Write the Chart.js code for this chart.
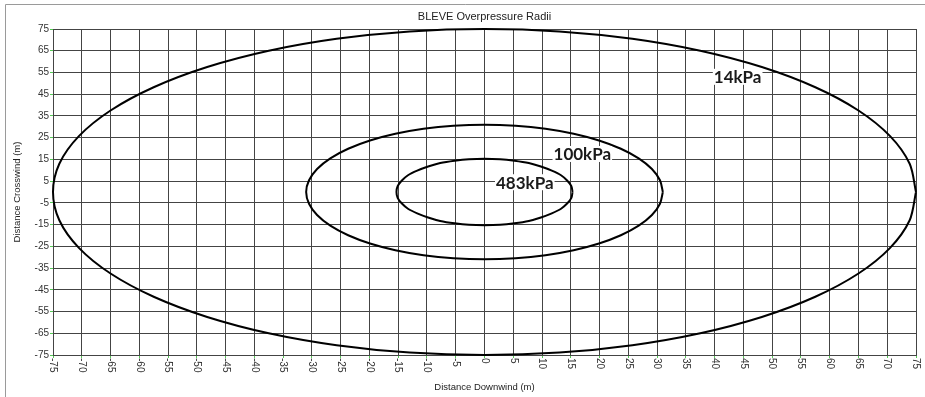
<!DOCTYPE html>
<html>
<head>
<meta charset="utf-8">
<title>BLEVE Overpressure Radii</title>
<script src="https://cdn.jsdelivr.net/npm/chart.js@4.4.1/dist/chart.umd.min.js"></script>
<style>
  body { margin: 0; background: #fff; }
  canvas { display: block; }
</style>
</head>
<body>
<canvas id="radiiChart" width="925" height="397"></canvas>
<script>
// tick values for both axes (m)
const xTicks = [-75, -70, -65, -60, -55, -50, -45, -40, -35, -30, -25, -20, -15, -10, -5,
  0, 5, 10, 15, 20, 25, 30, 35, 40, 45, 50, 55, 60, 65, 70, 75];
const yTicks = [75, 65, 55, 45, 35, 25, 15, 5, -5, -15, -25, -35, -45, -55, -65, -75];

// overpressure contours as [downwind, crosswind] points (m)
const contour14kPa = [
  [75, 0], [73.9, 13], [70.5, 25.7], [65, 37.5], [57.5, 48.2], [48.2, 57.5], [37.5, 65],
  [25.7, 70.5], [13, 73.9], [0, 75], [-13, 73.9], [-25.7, 70.5], [-37.5, 65], [-48.2, 57.5],
  [-57.5, 48.2], [-65, 37.5], [-70.5, 25.7], [-73.9, 13], [-75, 0], [-73.9, -13], [-70.5, -25.7],
  [-65, -37.5], [-57.5, -48.2], [-48.2, -57.5], [-37.5, -65], [-25.7, -70.5], [-13, -73.9],
  [0, -75], [13, -73.9], [25.7, -70.5], [37.5, -65], [48.2, -57.5], [57.5, -48.2], [65, -37.5],
  [70.5, -25.7], [73.9, -13], [75, 0]
];
const contour100kPa = [
  [31, 0], [30.5, 5.4], [29.1, 10.6], [26.8, 15.5], [23.7, 19.9], [19.9, 23.7], [15.5, 26.8],
  [10.6, 29.1], [5.4, 30.5], [0, 31], [-5.4, 30.5], [-10.6, 29.1], [-15.5, 26.8], [-19.9, 23.7],
  [-23.7, 19.9], [-26.8, 15.5], [-29.1, 10.6], [-30.5, 5.4], [-31, 0], [-30.5, -5.4], [-29.1, -10.6],
  [-26.8, -15.5], [-23.7, -19.9], [-19.9, -23.7], [-15.5, -26.8], [-10.6, -29.1], [-5.4, -30.5],
  [0, -31], [5.4, -30.5], [10.6, -29.1], [15.5, -26.8], [19.9, -23.7], [23.7, -19.9], [26.8, -15.5],
  [29.1, -10.6], [30.5, -5.4], [31, 0]
];
const contour483kPa = [
  [15.3, 0], [15.1, 2.7], [14.4, 5.2], [13.3, 7.7], [11.7, 9.8], [9.8, 11.7], [7.7, 13.3],
  [5.2, 14.4], [2.7, 15.1], [0, 15.3], [-2.7, 15.1], [-5.2, 14.4], [-7.7, 13.3], [-9.8, 11.7],
  [-11.7, 9.8], [-13.3, 7.7], [-14.4, 5.2], [-15.1, 2.7], [-15.3, 0], [-15.1, -2.7], [-14.4, -5.2],
  [-13.3, -7.7], [-11.7, -9.8], [-9.8, -11.7], [-7.7, -13.3], [-5.2, -14.4], [-2.7, -15.1],
  [0, -15.3], [2.7, -15.1], [5.2, -14.4], [7.7, -13.3], [9.8, -11.7], [11.7, -9.8], [13.3, -7.7],
  [14.4, -5.2], [15.1, -2.7], [15.3, 0]
];

// contour names and where they sit on the plot (m)
const zoneNames = ["14kPa", "100kPa", "483kPa"];
const zoneLabelX = [44, 17, 7];
const zoneLabelY = [53, 17.5, 4.5];

const toPoints = (pairs) => pairs.map(([x, y]) => ({ x: x, y: y }));

const contourStyle = {
  showLine: true,
  borderColor: "#000",
  borderWidth: 2,
  pointRadius: 0,
  tension: 0.3,
  clip: false,
};

const gridStyle = { color: "#444", tickColor: "#55cc55", tickLength: 3 };

// frame, rotated tick labels, titles and zone names
const chartText = {
  id: "chartText",
  beforeDraw(chart) {
    const ctx = chart.ctx;
    ctx.save();
    ctx.fillStyle = "#fff";
    ctx.fillRect(0, 0, chart.width, chart.height);
    ctx.strokeStyle = "#9a9a9a";
    ctx.lineWidth = 1;
    ctx.beginPath();
    ctx.moveTo(5.5, chart.height);
    ctx.lineTo(5.5, 4.5);
    ctx.lineTo(chart.width, 4.5);
    ctx.stroke();
    ctx.restore();
  },
  afterDraw(chart) {
    const { ctx, chartArea } = chart;
    const x = chart.scales.x;
    const y = chart.scales.y;
    const midX = (chartArea.left + chartArea.right) / 2;

    ctx.save();
    ctx.fillStyle = "#222";
    ctx.textAlign = "center";
    ctx.textBaseline = "middle";
    ctx.font = "11px Arial, 'Liberation Sans'";
    ctx.fillText("BLEVE Overpressure Radii", midX, 17);

    ctx.font = "9.5px Arial, 'Liberation Sans'";
    ctx.fillText("Distance Downwind (m)", midX, 387);

    ctx.save();
    ctx.translate(17, (chartArea.top + chartArea.bottom) / 2);
    ctx.rotate(-Math.PI / 2);
    ctx.fillText("Distance Crosswind (m)", 0, 0);
    ctx.restore();

    // x tick labels read top to bottom
    ctx.fillStyle = "#333";
    ctx.font = "10px Arial, 'Liberation Sans'";
    ctx.textAlign = "left";
    xTicks.forEach((v) => {
      ctx.save();
      ctx.translate(x.getPixelForValue(v), chartArea.bottom + 3);
      ctx.rotate(Math.PI / 2);
      ctx.fillText(String(v), 0, 0);
      ctx.restore();
    });

    ctx.font = "bold 17px Lato, 'Open Sans'";
    ctx.textAlign = "center";
    zoneNames.forEach((name, i) => {
      const px = x.getPixelForValue(zoneLabelX[i]);
      const py = y.getPixelForValue(zoneLabelY[i]);
      const w = ctx.measureText(name).width;
      ctx.fillStyle = "#fff";
      ctx.fillRect(px - w / 2 - 1, py - 8, w + 2, 16);
      ctx.fillStyle = "#1a1a1a";
      ctx.fillText(name, px, py + 1);
    });
    ctx.restore();
  },
};

const radiiChart = document.getElementById("radiiChart").getContext("2d");

new Chart(radiiChart, {
  type: "scatter",
  data: {
    datasets: [
      { label: "14kPa", data: toPoints(contour14kPa), ...contourStyle },
      { label: "100kPa", data: toPoints(contour100kPa), ...contourStyle },
      { label: "483kPa", data: toPoints(contour483kPa), ...contourStyle },
    ],
  },
  options: {
    responsive: false,
    animation: false,
    layout: {
      padding: { top: 29, right: 9, left: 0, bottom: 0 },
    },
    scales: {
      x: {
        type: "linear",
        min: -75,
        max: 75,
        afterBuildTicks: (axis) => {
          axis.ticks = xTicks.map((v) => ({ value: v }));
        },
        afterFit: (axis) => {
          axis.height = 42;
        },
        ticks: { display: false, autoSkip: false },
        grid: gridStyle,
        border: { color: "#444" },
      },
      y: {
        type: "linear",
        min: -75,
        max: 75,
        afterBuildTicks: (axis) => {
          axis.ticks = yTicks.map((v) => ({ value: v }));
        },
        afterFit: (axis) => {
          axis.width = 53;
        },
        ticks: {
          autoSkip: false,
          padding: 1,
          color: "#333",
          font: { family: "Arial, 'Liberation Sans'", size: 10 },
        },
        grid: gridStyle,
        border: { color: "#444" },
      },
    },
    plugins: {
      legend: { display: false },
      tooltip: { enabled: false },
    },
  },
  plugins: [chartText],
});
</script>
</body>
</html>
